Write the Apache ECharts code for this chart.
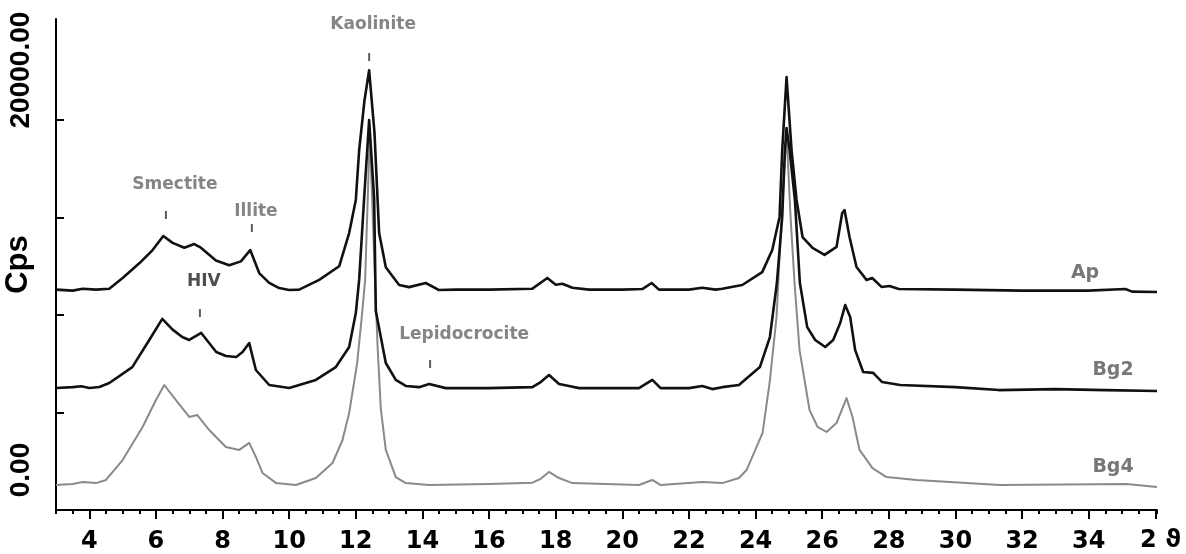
<!DOCTYPE html>
<html>
<head>
<meta charset="utf-8">
<script src="https://cdn.jsdelivr.net/npm/echarts@6/dist/echarts.min.js"></script>
<style>
  html, body { margin: 0; padding: 0; background: #fff; }
  #chart { width: 1186px; height: 554px; }
</style>
</head>
<body>
<div id="chart"></div>
<script>
// ==============================
// data (2θ in degrees, Cps as plotted with offsets)
// ==============================
const apData = [
  [3.0, 11300], [3.5, 11250], [3.8, 11350], [4.2, 11300], [4.6, 11350], [5.0, 11900],
  [5.5, 12650], [5.9, 13330], [6.22, 14050], [6.5, 13700], [6.85, 13450], [7.15, 13640],
  [7.35, 13450], [7.8, 12800], [8.2, 12550], [8.55, 12750], [8.83, 13330], [9.1, 12150],
  [9.4, 11650], [9.7, 11380], [10.0, 11280], [10.3, 11300], [10.9, 11800], [11.5, 12500],
  [11.8, 14200], [12.0, 15900], [12.1, 18450], [12.26, 21000], [12.4, 22550], [12.56, 19350],
  [12.7, 14200], [12.9, 12450], [13.3, 11540], [13.6, 11430], [14.1, 11640], [14.5, 11280],
  [15.0, 11300], [16.0, 11300], [17.3, 11350], [17.75, 11900], [18.0, 11550], [18.2, 11600],
  [18.5, 11400], [19.0, 11300], [20.0, 11300], [20.6, 11330], [20.88, 11640], [21.1, 11300],
  [22.0, 11300], [22.4, 11400], [22.8, 11300], [23.0, 11350], [23.6, 11540], [24.2, 12200],
  [24.5, 13330], [24.72, 15030], [24.8, 18460], [24.93, 22200], [25.08, 18460], [25.23, 15900],
  [25.41, 14000], [25.71, 13440], [26.07, 13080], [26.43, 13490], [26.6, 15230], [26.67, 15380],
  [26.82, 14000], [27.03, 12460], [27.33, 11800], [27.5, 11900], [27.78, 11440], [28.02, 11490],
  [28.3, 11330], [30.0, 11300], [32.0, 11250], [34.0, 11250], [35.1, 11330], [35.3, 11200],
  [36.05, 11180]
];

const bg2Data = [
  [3.0, 6260], [3.5, 6300], [3.76, 6350], [4.0, 6260], [4.3, 6310], [4.6, 6510], [5.29, 7330],
  [5.8, 8720], [6.19, 9800], [6.5, 9250], [6.79, 8870], [7.0, 8720], [7.36, 9080], [7.81, 8100],
  [8.1, 7900], [8.41, 7850], [8.6, 8100], [8.8, 8560], [9.0, 7180], [9.4, 6410], [10.0, 6260],
  [10.8, 6670], [11.4, 7330], [11.8, 8360], [12.0, 10100], [12.1, 11800], [12.25, 16000],
  [12.4, 20000], [12.55, 16000], [12.6, 10200], [12.9, 7540], [13.2, 6670], [13.5, 6360],
  [13.9, 6300], [14.2, 6460], [14.7, 6250], [16.0, 6250], [17.3, 6300], [17.55, 6560],
  [17.8, 6920], [18.1, 6460], [18.4, 6360], [18.7, 6250], [20.5, 6250], [20.9, 6670],
  [21.15, 6250], [22.0, 6250], [22.4, 6360], [22.7, 6200], [23.0, 6300], [23.5, 6410],
  [24.13, 7330], [24.43, 8870], [24.64, 11640], [24.8, 15030], [24.88, 18460], [24.93, 19590],
  [25.02, 18460], [25.18, 15900], [25.33, 11640], [25.55, 9380], [25.79, 8720], [26.09, 8360],
  [26.33, 8720], [26.54, 9590], [26.69, 10510], [26.84, 9900], [26.99, 8200], [27.23, 7080],
  [27.53, 7030], [27.8, 6560], [28.34, 6410], [30.0, 6300], [31.3, 6150], [33.0, 6200],
  [34.5, 6150], [36.05, 6100]
];

const bg4Data = [
  [3.0, 1280], [3.5, 1330], [3.8, 1440], [4.2, 1380], [4.5, 1540], [5.0, 2560], [5.6, 4260],
  [6.0, 5640], [6.25, 6410], [6.6, 5640], [7.0, 4770], [7.24, 4870], [7.6, 4100], [8.1, 3230],
  [8.5, 3080], [8.8, 3440], [9.0, 2720], [9.2, 1900], [9.6, 1390], [10.2, 1280], [10.8, 1640],
  [11.3, 2410], [11.6, 3590], [11.8, 4970], [12.04, 7540], [12.19, 10100], [12.28, 11800],
  [12.42, 19330], [12.55, 13000], [12.65, 8500], [12.75, 5200], [12.9, 3080], [13.2, 1690],
  [13.5, 1380], [14.2, 1280], [16.0, 1330], [17.3, 1400], [17.55, 1600], [17.8, 1950],
  [18.1, 1640], [18.5, 1380], [20.5, 1280], [20.9, 1540], [21.15, 1280], [22.4, 1440],
  [23.0, 1380], [23.5, 1640], [23.73, 2050], [24.21, 3950], [24.42, 6510], [24.63, 9900],
  [24.78, 15030], [24.93, 19330], [25.05, 15030], [25.17, 11640], [25.32, 8200], [25.62, 5130],
  [25.86, 4260], [26.13, 4000], [26.43, 4460], [26.73, 5740], [26.91, 4770], [27.12, 3080],
  [27.51, 2150], [27.93, 1690], [28.83, 1540], [31.33, 1280], [35.14, 1330], [36.05, 1180]
];

// mineral peak markers
const markerNames = ['Kaolinite', 'Smectite', 'Illite', 'HIV', 'Lepidocrocite'];
const markerX = [12.40, 6.30, 8.88, 7.32, 14.23];
const markerY = [23230, 15130, 14460, 10100, 7490];

// sample names next to the curves
const sampleNames = ['Ap', 'Bg2', 'Bg4'];
const sampleX = [33.89, 34.73, 34.73];
const sampleY = [12150, 7180, 2200];

// axis ticks / labels
const xTickValues = [4, 6, 8, 10, 12, 14, 16, 18, 20, 22, 24, 26, 28, 30, 32, 34, 36];
const xLabelValues = [4, 6, 8, 10, 12, 14, 16, 18, 20, 22, 24, 26, 28, 30, 32, 34];
const xAxisTitle = '2 ϑ';
const yTickValues = [5000, 10000, 15000, 20000];
const yLabelValues = [2050, 22560];
const yLabelTexts = ['0.00', '20000.00'];
const yAxisTitle = 'Cps';


// ==============================
// layout / style
// ==============================
const markerOffsets = {
  Kaolinite: [4, -32],
  Smectite: [9, -30],
  Illite: [4, -16],
  HIV: [4, -31],
  Lepidocrocite: [34, -29]
};
const markerColors = { HIV: '#222' };

const chart = echarts.init(document.getElementById('chart'));

const markerSeriesData = markerNames.map((name, i) => ({
  name,
  value: [markerX[i], markerY[i]],
  label: {
    offset: markerOffsets[name],
    color: markerColors[name] || '#666'
  }
}));

const sampleSeriesData = sampleNames.map((name, i) => ({
  name,
  value: [sampleX[i], sampleY[i]]
}));

function curve(name, data, color, width) {
  return {
    name,
    type: 'line',
    data,
    showSymbol: false,
    lineStyle: { color, width, join: 'round' },
    z: 2
  };
}

chart.setOption({
  backgroundColor: '#fff',
  animation: false,
  grid: { left: 56, right: 29, top: 19, bottom: 44, outerBoundsMode: 'none' },
  xAxis: [
    {
      type: 'value',
      min: 3,
      max: 36.05,
      name: xAxisTitle,
      nameLocation: 'end',
      nameGap: 24,
      nameMoveOverlap: false,
      nameTextStyle: {
        color: '#000',
        fontFamily: 'DejaVu Sans',
        fontWeight: 'bold',
        fontSize: 24,
        align: 'right',
        verticalAlign: 'top',
        padding: [19, 0, 0, 0]
      },
      axisLine: { lineStyle: { color: '#000', width: 2 } },
      axisTick: { customValues: xTickValues, length: 9, lineStyle: { color: '#000', width: 2 } },
      axisLabel: {
        customValues: xLabelValues,
        margin: 20,
        color: '#000',
        fontFamily: 'DejaVu Sans',
        fontWeight: 'bold',
        fontSize: 24
      },
      splitLine: { show: false }
    },
    {
      type: 'value',
      position: 'bottom',
      min: 3,
      max: 36.05,
      interval: 0.5,
      axisLine: { show: false },
      axisTick: { length: 4, lineStyle: { color: '#000', width: 2 } },
      axisLabel: { show: false },
      splitLine: { show: false }
    }
  ],
  yAxis: {
    type: 'value',
    min: 0,
    max: 25180,
    name: yAxisTitle,
    nameLocation: 'middle',
    nameRotate: 90,
    nameGap: 22,
    nameMoveOverlap: false,
    nameTextStyle: { color: '#000', fontFamily: 'Liberation Sans', fontWeight: 'bold', fontSize: 31 },
    axisLine: { show: true, lineStyle: { color: '#000', width: 2 } },
    axisTick: { show: true, inside: true, customValues: yTickValues, length: 8, lineStyle: { color: '#000', width: 2 } },
    axisLabel: {
      customValues: yLabelValues,
      rotate: 90,
      margin: 21,
      color: '#000',
      fontFamily: 'Liberation Sans',
      fontWeight: 'bold',
      fontSize: 28,
      formatter: v => yLabelTexts[yLabelValues.indexOf(v)]
    },
    splitLine: { show: false }
  },
  series: [
    curve('Bg4', bg4Data, '#8a8a8a', 2),
    curve('Bg2', bg2Data, '#111', 2.6),
    curve('Ap', apData, '#111', 2.6),
    {
      name: 'markers',
      type: 'scatter',
      data: markerSeriesData,
      symbol: 'rect',
      symbolSize: [2, 8],
      itemStyle: { color: '#333' },
      label: {
        show: true,
        position: 'inside',
        formatter: '{b}',
        fontFamily: 'DejaVu Sans',
        fontWeight: 'bold',
        fontSize: 17
      },
      silent: true,
      z: 3
    },
    {
      name: 'samples',
      type: 'scatter',
      data: sampleSeriesData,
      symbolSize: 0,
      label: {
        show: true,
        position: 'inside',
        formatter: '{b}',
        color: '#555',
        fontFamily: 'DejaVu Sans',
        fontWeight: 'bold',
        fontSize: 19
      },
      silent: true,
      z: 3
    }
  ]
});
</script>
</body>
</html>
